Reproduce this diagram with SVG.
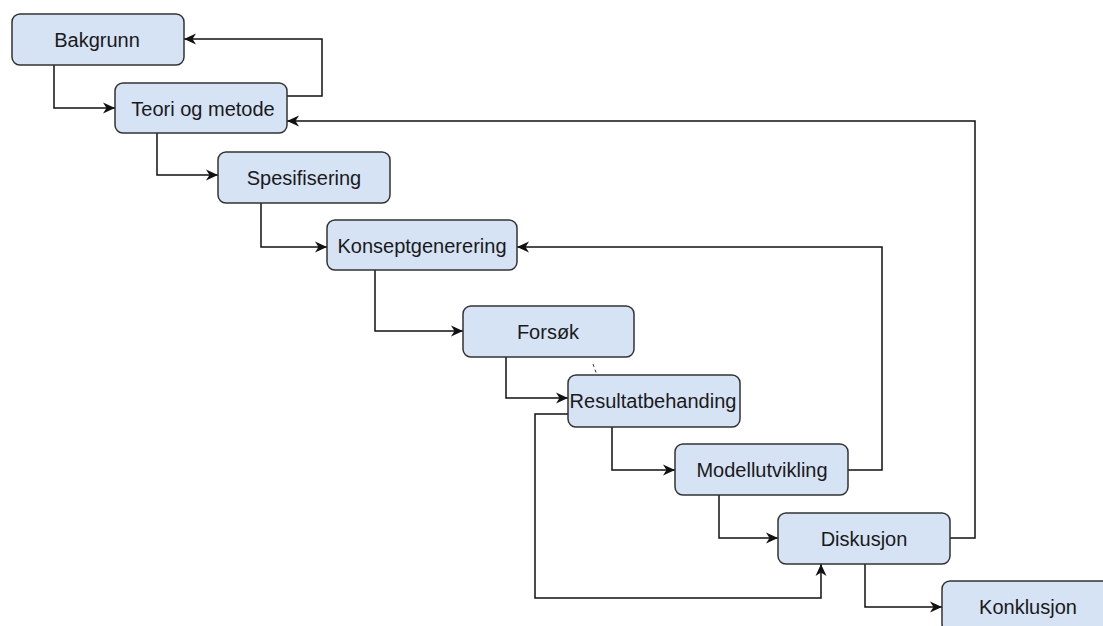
<svg xmlns="http://www.w3.org/2000/svg" width="1103" height="626" viewBox="0 0 1103 626">
<style>
.box{fill:#d6e3f5;stroke:#333333;stroke-width:1.5}
.lbl{font-family:"Liberation Sans",Arial,sans-serif;font-size:20px;fill:#1a1a1a;text-anchor:middle;dominant-baseline:central}
.con{fill:none;stroke:#111111;stroke-width:1.5}
</style>
<defs>
<marker id="arr" markerUnits="userSpaceOnUse" markerWidth="14" markerHeight="12" refX="12" refY="6" orient="auto">
<path d="M0,0.5 L12,6 L0,11.5 L3.5,6 Z" fill="#111111"/>
</marker>
</defs>
<rect width="1103" height="626" fill="#ffffff"/>
<g id="connectors">
<path class="con" d="M54,65 V108 H115" marker-end="url(#arr)"/>
<path class="con" d="M287,96 H322 V39 H184" marker-end="url(#arr)"/>
<path class="con" d="M950,538 H975 V121 H287" marker-end="url(#arr)"/>
<path class="con" d="M157,133 V175 H218" marker-end="url(#arr)"/>
<path class="con" d="M261,203 V247 H327" marker-end="url(#arr)"/>
<path class="con" d="M848,470 H882 V247 H517" marker-end="url(#arr)"/>
<path class="con" d="M375,270 V331 H463" marker-end="url(#arr)"/>
<path class="con" d="M506,357 V398 H568" marker-end="url(#arr)"/>
<path class="con" d="M568,414 H535 V598 H821 V564" marker-end="url(#arr)"/>
<path class="con" d="M612,427 V470 H675" marker-end="url(#arr)"/>
<path class="con" d="M719,495 V538 H778" marker-end="url(#arr)"/>
<path class="con" d="M865,564 V607 H942" marker-end="url(#arr)"/>
<path d="M593,364 L598,378" fill="none" stroke="#333333" stroke-width="1" stroke-dasharray="3,3"/>
</g>
<g id="bakgrunn"><rect class="box" x="12" y="14" width="172" height="51" rx="8"/><text class="lbl" x="97" y="40">Bakgrunn</text></g>
<g id="teori"><rect class="box" x="115" y="83" width="172" height="50" rx="8"/><text class="lbl" x="203" y="109">Teori og metode</text></g>
<g id="spesifisering"><rect class="box" x="218" y="152" width="172" height="51" rx="8"/><text class="lbl" x="304" y="178">Spesifisering</text></g>
<g id="konsept"><rect class="box" x="327" y="220" width="190" height="50" rx="8"/><text class="lbl" x="422" y="246">Konseptgenerering</text></g>
<g id="forsok"><rect class="box" x="463" y="306" width="171" height="51" rx="8"/><text class="lbl" x="548" y="332">Forsøk</text></g>
<g id="resultat"><rect class="box" x="568" y="375" width="172" height="52" rx="8"/><text class="lbl" x="653" y="401">Resultatbehanding</text></g>
<g id="modell"><rect class="box" x="675" y="444" width="173" height="51" rx="8"/><text class="lbl" x="762" y="470">Modellutvikling</text></g>
<g id="diskusjon"><rect class="box" x="778" y="513" width="172" height="51" rx="8"/><text class="lbl" x="864" y="539">Diskusjon</text></g>
<g id="konklusjon"><rect class="box" x="942" y="581" width="172" height="51" rx="8"/><text class="lbl" x="1028" y="607">Konklusjon</text></g>
</svg>
